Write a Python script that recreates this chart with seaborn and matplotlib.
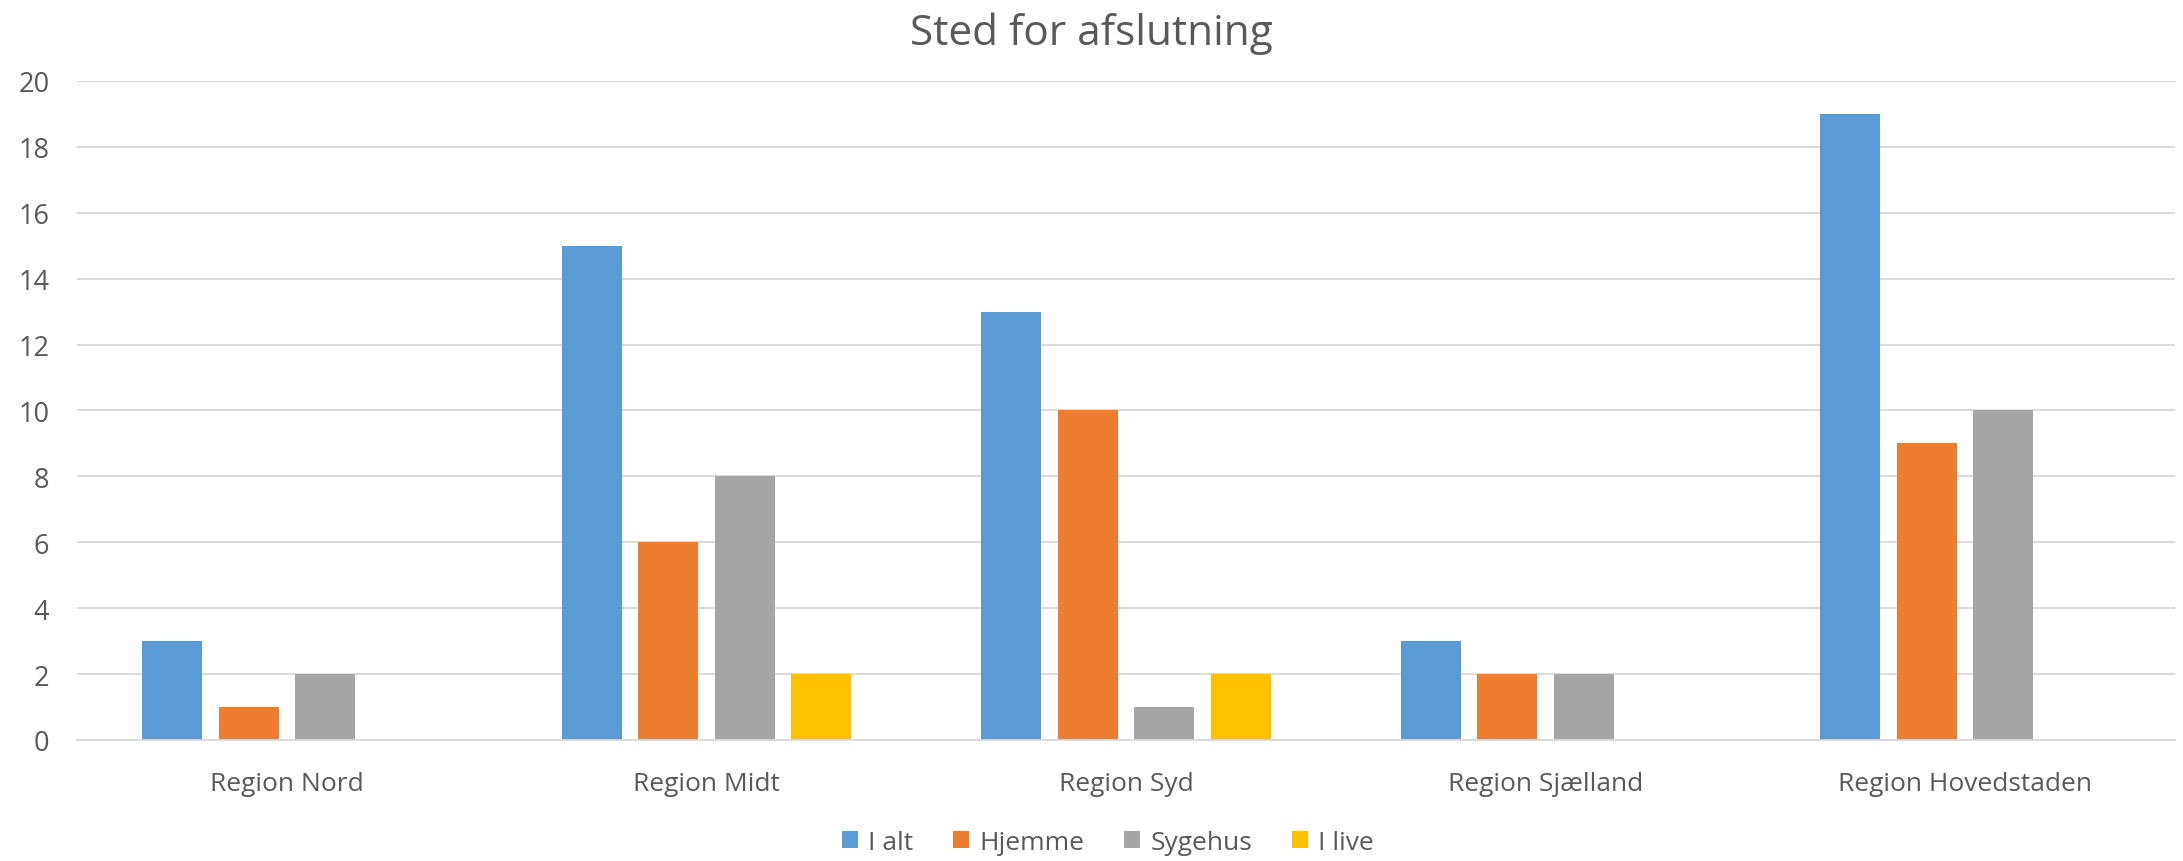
import pandas as pd
import matplotlib.pyplot as plt
import seaborn as sns

# values
regions = ['Region Nord', 'Region Midt', 'Region Syd', 'Region Sjælland', 'Region Hovedstaden']
series = ['I alt', 'Hjemme', 'Sygehus', 'I live']
i_alt = [3, 15, 13, 3, 19]
hjemme = [1, 6, 10, 2, 9]
sygehus = [2, 8, 1, 2, 10]
i_live = [0, 2, 2, 0, 0]
colors = ['#5B9BD5', '#ED7D31', '#A5A5A5', '#FFC000']

rows = []
for name, vals in zip(series, [i_alt, hjemme, sygehus, i_live]):
    for reg, v in zip(regions, vals):
        rows.append({'region': reg, 'serie': name, 'antal': v})
df = pd.DataFrame(rows)

sns.set_style('white')
plt.rcParams['font.family'] = ['Open Sans', 'DejaVu Sans']
text_col = '#595959'

fig = plt.figure(figsize=(21.83, 8.62), dpi=100)
ax = fig.add_axes([0.0353, 0.1404, 0.961, 0.7645])

sns.barplot(data=df, x='region', y='antal', hue='serie', order=regions,
            hue_order=series, palette=colors, width=0.729, gap=0.215,
            saturation=1, linewidth=0, ax=ax, legend=True)

ax.set_ylim(0, 20)
ax.set_xlim(-0.5, 4.5)
ax.set_yticks(range(0, 21, 2))
ax.yaxis.grid(True, color='#D9D9D9', linewidth=1.3)
ax.set_axisbelow(True)
for s in ['top', 'right', 'left']:
    ax.spines[s].set_visible(False)
ax.spines['bottom'].set_color('#D9D9D9')
ax.spines['bottom'].set_linewidth(1.3)
ax.tick_params(axis='y', length=0, pad=20, labelsize=19.5, labelcolor=text_col)
ax.tick_params(axis='x', length=0, pad=22, labelsize=19, labelcolor=text_col)
ax.set_xlabel('')
ax.set_ylabel('')

fig.suptitle('Sted for afslutning', y=0.985, fontsize=30.5, color=text_col)

handles, labels = ax.get_legend_handles_labels()
ax.get_legend().remove()
fig.legend(handles, labels, loc='center', bbox_to_anchor=(0.5075, 0.022), ncol=4,
           frameon=False, fontsize=19, labelcolor=text_col, handlelength=0.6,
           handleheight=0.6, handletextpad=0.4, columnspacing=1.5)

fig.savefig('out.png', dpi=100)
